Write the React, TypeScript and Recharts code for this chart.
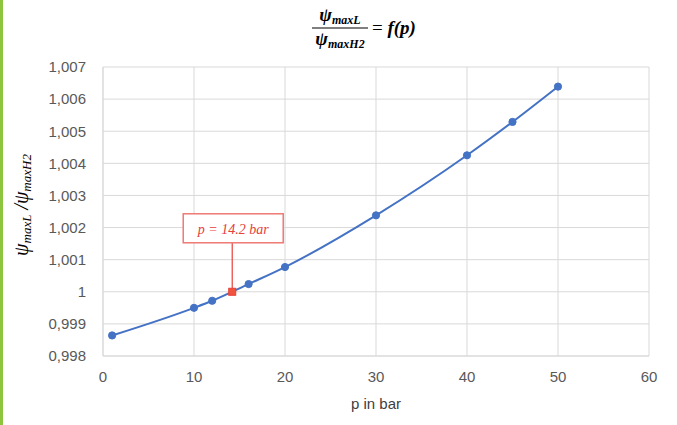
import { CartesianGrid, ComposedChart, Line, Scatter, XAxis, YAxis } from "recharts";

const pressure = [1, 10, 12, 16, 20, 30, 40, 45, 50];
const psiRatio = [0.99864, 0.9995, 0.99972, 1.00024, 1.00077, 1.00238, 1.00425, 1.00529, 1.00639];
const markPressure = [14.2];
const markRatio = [1.0];
const xTicks = [0, 10, 20, 30, 40, 50, 60];
const yTicks = [0.998, 0.999, 1, 1.001, 1.002, 1.003, 1.004, 1.005, 1.006, 1.007];

const series = pressure.map((p, i) => ({ p, v: psiRatio[i] }));
const marks = markPressure.map((p, i) => ({ p, v: markRatio[i] }));

const fmtY = (v: number) => (v === 1 ? "1" : v.toFixed(3).replace(".", ","));

const RED = "#e8403a";

function MarkShape(props: any) {
  const { cx, cy } = props;
  if (cx == null || cy == null) return null;
  return (
    <g>
      <line x1={cx} y1={cy} x2={cx} y2={cy - 49} stroke={RED} strokeWidth={1.2} />
      <rect x={cx - 49} y={cy - 78} width={100} height={29} fill="#fff" stroke="#ef7a74" strokeWidth={1.5} />
      <text x={cx + 1} y={cy - 58} textAnchor="middle" fill={RED} fontFamily="Liberation Serif" fontStyle="italic" fontSize={14}>
        p = 14.2 bar
      </text>
      <rect x={cx - 3.5} y={cy - 3.5} width={7} height={7} fill="#f0553c" stroke={RED} strokeWidth={1} />
    </g>
  );
}

export default function App() {
  return (
    <div style={{ position: "absolute", left: 0, top: 0, width: 677, height: 425, background: "#fff" }}>
      <div style={{ position: "absolute", left: 0, top: 0, width: 3, height: 425, background: "#8cc63e" }} />
      <ComposedChart
        width={677}
        height={425}
        data={series}
        margin={{ top: 67, right: 28, bottom: 0, left: 0 }}
        style={{ fontFamily: "Liberation Sans, Arial, sans-serif" }}
      >
        <CartesianGrid stroke="#d9d9d9" strokeWidth={1} />
        <XAxis
          dataKey="p"
          type="number"
          domain={[0, 60]}
          ticks={xTicks}
          height={69}
          stroke="#d9d9d9"
          tickLine={false}
          tick={{ fill: "#595959", fontSize: 15 }}
          tickMargin={9}
          label={{ value: "p in bar", position: "insideBottom", offset: 16, fill: "#404040", fontSize: 15 }}
        />
        <YAxis
          type="number"
          domain={[0.998, 1.007]}
          ticks={yTicks}
          width={103}
          stroke="#d9d9d9"
          tickLine={false}
          tickFormatter={fmtY}
          tick={{ fill: "#595959", fontSize: 15 }}
          tickMargin={11}
          interval={0}
        />
        <Line
          dataKey="v"
          type="monotone"
          stroke="#4472c4"
          strokeWidth={2}
          dot={{ r: 3.6, fill: "#4472c4", stroke: "#4472c4", strokeWidth: 1 }}
          isAnimationActive={false}
        />
        <Scatter data={marks} dataKey="v" shape={<MarkShape />} isAnimationActive={false} />
      </ComposedChart>
      <svg width={677} height={425} style={{ position: "absolute", left: 0, top: 0, pointerEvents: "none" }}>
        <g fontFamily="Liberation Serif" fontStyle="italic" fontWeight="bold" fill="#000">
          <text x={340} y={21} textAnchor="middle" fontSize={19}>
            ψ<tspan fontSize={12} dy={3}>maxL</tspan>
          </text>
          <line x1={312} x2={368} y1={28} y2={28} stroke="#000" strokeWidth={1} />
          <text x={340} y={45} textAnchor="middle" fontSize={19}>
            ψ<tspan fontSize={12} dy={3}>maxH2</tspan>
          </text>
          <text x={372} y={34} fontSize={19}>
            <tspan fontStyle="normal" fontWeight="normal">=</tspan> f(p)
          </text>
        </g>
        <text
          transform="translate(28,205) rotate(-90)"
          textAnchor="middle"
          fontFamily="Liberation Serif"
          fontStyle="italic"
          fontSize={20}
          fill="#000"
        >
          ψ<tspan fontSize={13} dy={3}>maxL</tspan>
          <tspan dy={-3}> /ψ</tspan>
          <tspan fontSize={13} dy={3}>maxH2</tspan>
        </text>
      </svg>
    </div>
  );
}
